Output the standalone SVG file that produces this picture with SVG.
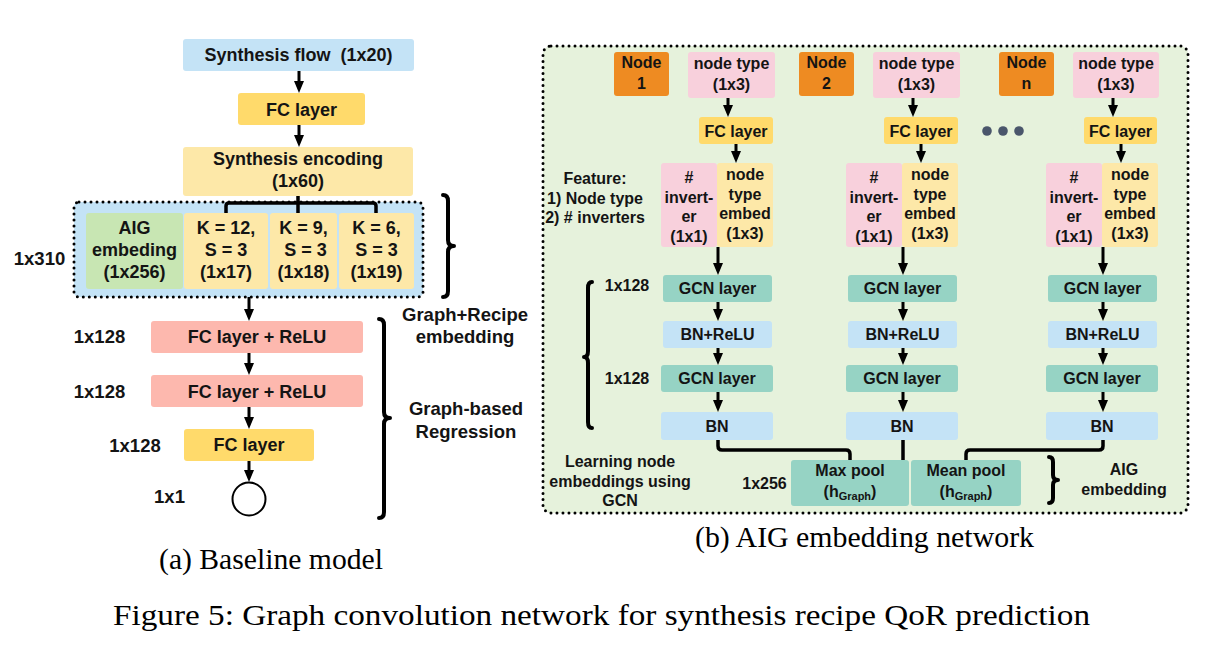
<svg xmlns="http://www.w3.org/2000/svg" width="1214" height="656" viewBox="0 0 1214 656">
<defs>
<marker id="ah" viewBox="0 0 12 10" markerWidth="12" markerHeight="10" refX="6" refY="5" orient="auto" markerUnits="userSpaceOnUse">
<path d="M0,0 L12,5 L0,10 z" fill="#000"/>
</marker>
<style>
.t{font-family:"Liberation Sans",Arial,sans-serif;font-weight:bold;fill:#141414;text-anchor:middle}
.L{font-size:18px}
.S{font-size:18.5px}
.R{font-size:16px}
.cap{font-family:"Liberation Serif",Tinos,"Times New Roman",Times,serif;font-size:29px;fill:#000}
.dot{fill:none;stroke:#000;stroke-width:3;stroke-dasharray:0 6;stroke-linecap:round}
.arr{stroke:#000;stroke-width:3;fill:none;marker-end:url(#ah)}
.ln{stroke:#000;stroke-width:3.5;fill:none;stroke-linejoin:round}
.br{stroke:#000;stroke-width:4;fill:none;stroke-linecap:round;stroke-linejoin:round}
.blue{fill:#c4e3f6}
.gold{fill:#ffda6b}
.ylw{fill:#fde8a8}
.grn{fill:#c8e6b3}
.sal{fill:#fdb8ae}
.pink{fill:#f8d0dc}
.org{fill:#ee8b22}
.teal{fill:#96d3c4}
</style>
</defs>
<rect width="1214" height="656" fill="#fff"/>

<!-- ===== Left panel: Baseline model ===== -->
<g id="synth-flow"><rect class="blue" x="183" y="39" width="231" height="32" rx="3"/><text class="t L" x="298.5" y="61">Synthesis flow&#160; (1x20)</text></g>
<g id="fc-left-top"><rect class="gold" x="238" y="93" width="127" height="32" rx="3"/><text class="t L" x="301.5" y="115.5">FC layer</text></g>
<g id="synth-enc"><rect class="ylw" x="183" y="147" width="230" height="49" rx="3"/><text class="t L" x="298" y="164.5">Synthesis encoding</text><text class="t L" x="298" y="186.5">(1x60)</text></g>
<g id="concat-box">
<rect class="blue" x="74" y="202" width="349" height="95" rx="5"/>
<rect class="dot" x="74" y="202" width="349" height="95" rx="5"/>
</g>
<g id="aig-emb"><rect class="grn" x="86" y="213" width="97" height="76" rx="3"/><text class="t L" x="134.5" y="233.5">AIG</text><text class="t L" x="134.5" y="255.5">embeding</text><text class="t L" x="134.5" y="277.5">(1x256)</text></g>
<g id="k12"><rect class="ylw" x="184" y="213" width="84" height="76" rx="3"/><text class="t L" x="226" y="233.5">K = 12,</text><text class="t L" x="226" y="255.5">S = 3</text><text class="t L" x="226" y="277.5">(1x17)</text></g>
<g id="k9"><rect class="ylw" x="270" y="213" width="67" height="76" rx="3"/><text class="t L" x="303.5" y="233.5">K = 9,</text><text class="t L" x="305.5" y="255.5">S = 3</text><text class="t L" x="303.5" y="277.5">(1x18)</text></g>
<g id="k6"><rect class="ylw" x="339" y="213" width="75" height="76" rx="3"/><text class="t L" x="376.5" y="233.5">K = 6,</text><text class="t L" x="376.5" y="255.5">S = 3</text><text class="t L" x="376.5" y="277.5">(1x19)</text></g>
<g id="fc-relu-1"><rect class="sal" x="151" y="321" width="212" height="32" rx="3"/><text class="t L" x="257" y="342.5">FC layer + ReLU</text></g>
<g id="fc-relu-2"><rect class="sal" x="151" y="375" width="212" height="32" rx="3"/><text class="t L" x="257" y="397.5">FC layer + ReLU</text></g>
<g id="fc-left-bot"><rect class="gold" x="184" y="429" width="130" height="32" rx="3"/><text class="t L" x="249" y="451">FC layer</text></g>
<g id="output"><circle cx="249" cy="499" r="16.5" fill="#fff" stroke="#000" stroke-width="2"/></g>
<g id="left-labels">
<text class="t S" x="39.5" y="264.5">1x310</text>
<text class="t S" x="99.5" y="342.5">1x128</text>
<text class="t S" x="99.5" y="398">1x128</text>
<text class="t S" x="135" y="452">1x128</text>
<text class="t S" x="169.5" y="503">1x1</text>
<text class="t S" x="465" y="320.5">Graph+Recipe</text>
<text class="t S" x="465" y="343">embedding</text>
<text class="t S" x="466" y="415">Graph-based</text>
<text class="t S" x="466" y="438">Regression</text>
<path class="br" d="M443,195 Q448,195 448,201 L448,240 Q448,246 454,246 Q448,246 448,252 L448,291 Q448,297 443,297"/>
<path class="br" d="M379,319 Q384,319 384,325 L384,412 Q384,418 390,418 Q384,418 384,424 L384,512 Q384,518 379,518"/>
</g>

<!-- ===== Right panel: AIG embedding network ===== -->
<g id="aig-panel">
<rect x="543" y="46" width="645" height="467" rx="8" fill="#e6f2dc"/>
<rect class="dot" x="543" y="46" width="645" height="467" rx="8"/>
</g>

<g id="node1"><rect class="org" x="614" y="52" width="55" height="44" rx="3"/><text class="t R" x="641.5" y="68">Node</text><text class="t R" x="641.5" y="89">1</text></g>
<g id="ntype1"><rect class="pink" x="688" y="52" width="87" height="46" rx="3"/><text class="t R" x="731.5" y="69">node type</text><text class="t R" x="731.5" y="90">(1x3)</text></g>
<g id="fc1"><rect class="gold" x="699" y="117" width="74" height="27" rx="3"/><text class="t R" x="736" y="136.5">FC layer</text></g>
<g id="inv1"><rect class="pink" x="661" y="163" width="56" height="84" rx="3"/><text class="t R" x="689" y="183">#</text><text class="t R" x="689" y="202.5">invert-</text><text class="t R" x="689" y="222">er</text><text class="t R" x="689" y="241.5">(1x1)</text></g>
<g id="emb1"><rect class="ylw" x="717" y="163" width="56" height="84" rx="3"/><text class="t R" x="745" y="180">node</text><text class="t R" x="745" y="199.5">type</text><text class="t R" x="745" y="219">embed</text><text class="t R" x="745" y="238.5">(1x3)</text></g>
<g id="gcn1a"><rect class="teal" x="663" y="275" width="109" height="27" rx="3"/><text class="t R" x="717.5" y="294">GCN layer</text></g>
<g id="bnr1"><rect class="blue" x="663" y="321" width="109" height="27" rx="3"/><text class="t R" x="717.5" y="340">BN+ReLU</text></g>
<g id="gcn1b"><rect class="teal" x="661" y="365" width="112" height="27" rx="3"/><text class="t R" x="717" y="384">GCN layer</text></g>
<g id="bn1"><rect class="blue" x="661" y="412" width="112" height="28" rx="3"/><text class="t R" x="717" y="431.5">BN</text></g>

<g id="node2"><rect class="org" x="799" y="52" width="55" height="44" rx="3"/><text class="t R" x="826.5" y="68">Node</text><text class="t R" x="826.5" y="89">2</text></g>
<g id="ntype2"><rect class="pink" x="873" y="52" width="87" height="46" rx="3"/><text class="t R" x="916.5" y="69">node type</text><text class="t R" x="916.5" y="90">(1x3)</text></g>
<g id="fc2"><rect class="gold" x="884" y="117" width="74" height="27" rx="3"/><text class="t R" x="921" y="136.5">FC layer</text></g>
<g id="inv2"><rect class="pink" x="846" y="163" width="56" height="84" rx="3"/><text class="t R" x="874" y="183">#</text><text class="t R" x="874" y="202.5">invert-</text><text class="t R" x="874" y="222">er</text><text class="t R" x="874" y="241.5">(1x1)</text></g>
<g id="emb2"><rect class="ylw" x="902" y="163" width="56" height="84" rx="3"/><text class="t R" x="930" y="180">node</text><text class="t R" x="930" y="199.5">type</text><text class="t R" x="930" y="219">embed</text><text class="t R" x="930" y="238.5">(1x3)</text></g>
<g id="gcn2a"><rect class="teal" x="848" y="275" width="109" height="27" rx="3"/><text class="t R" x="902.5" y="294">GCN layer</text></g>
<g id="bnr2"><rect class="blue" x="848" y="321" width="109" height="27" rx="3"/><text class="t R" x="902.5" y="340">BN+ReLU</text></g>
<g id="gcn2b"><rect class="teal" x="846" y="365" width="112" height="27" rx="3"/><text class="t R" x="902" y="384">GCN layer</text></g>
<g id="bn2"><rect class="blue" x="846" y="412" width="112" height="28" rx="3"/><text class="t R" x="902" y="431.5">BN</text></g>

<g id="ellipsis"><circle cx="987" cy="131" r="4.8" fill="#4a566b"/><circle cx="1003" cy="131" r="4.8" fill="#4a566b"/><circle cx="1019" cy="131" r="4.8" fill="#4a566b"/></g>

<g id="noden"><rect class="org" x="999" y="52" width="55" height="44" rx="3"/><text class="t R" x="1026.5" y="68">Node</text><text class="t R" x="1026.5" y="89">n</text></g>
<g id="ntypen"><rect class="pink" x="1073" y="52" width="86" height="46" rx="3"/><text class="t R" x="1116" y="69">node type</text><text class="t R" x="1116" y="90">(1x3)</text></g>
<g id="fcn"><rect class="gold" x="1084" y="117" width="73" height="27" rx="3"/><text class="t R" x="1120.5" y="136.5">FC layer</text></g>
<g id="invn"><rect class="pink" x="1046" y="163" width="56" height="84" rx="3"/><text class="t R" x="1074" y="183">#</text><text class="t R" x="1074" y="202.5">invert-</text><text class="t R" x="1074" y="222">er</text><text class="t R" x="1074" y="241.5">(1x1)</text></g>
<g id="embn"><rect class="ylw" x="1102" y="163" width="56" height="84" rx="3"/><text class="t R" x="1130" y="180">node</text><text class="t R" x="1130" y="199.5">type</text><text class="t R" x="1130" y="219">embed</text><text class="t R" x="1130" y="238.5">(1x3)</text></g>
<g id="gcnna"><rect class="teal" x="1048" y="275" width="109" height="27" rx="3"/><text class="t R" x="1102.5" y="294">GCN layer</text></g>
<g id="bnrn"><rect class="blue" x="1048" y="321" width="109" height="27" rx="3"/><text class="t R" x="1102.5" y="340">BN+ReLU</text></g>
<g id="gcnnb"><rect class="teal" x="1046" y="365" width="112" height="27" rx="3"/><text class="t R" x="1102" y="384">GCN layer</text></g>
<g id="bnn"><rect class="blue" x="1046" y="412" width="112" height="28" rx="3"/><text class="t R" x="1102" y="431.5">BN</text></g>

<g id="maxpool"><rect class="teal" x="791" y="460" width="118" height="46" rx="3"/><text class="t R" x="850" y="476">Max pool</text><text class="t R" x="850" y="497">(h<tspan font-size="11" dy="3">Graph</tspan><tspan dy="-3">)</tspan></text></g>
<g id="meanpool"><rect class="teal" x="911" y="460" width="110" height="46" rx="3"/><text class="t R" x="966" y="476">Mean pool</text><text class="t R" x="966" y="497">(h<tspan font-size="11" dy="3">Graph</tspan><tspan dy="-3">)</tspan></text></g>

<g id="right-labels">
<text class="t R" x="595" y="184">Feature:</text>
<text class="t R" x="595" y="204">1) Node type</text>
<text class="t R" x="595" y="223">2) # inverters</text>
<text class="t R" x="627" y="291">1x128</text>
<text class="t R" x="627" y="384">1x128</text>
<text class="t R" x="620" y="467">Learning node</text>
<text class="t R" x="620" y="487">embeddings using</text>
<text class="t R" x="620" y="506">GCN</text>
<text class="t R" x="764.5" y="489">1x256</text>
<text class="t R" x="1124" y="475">AIG</text>
<text class="t R" x="1124" y="495">embedding</text>
<path class="br" d="M592,282 Q588,282 588,288 L588,351 Q588,357 584,357 Q588,357 588,363 L588,422 Q588,428 592,428"/>
<path class="br" d="M1049,457 Q1053,457 1053,462 L1053,475 Q1053,480 1058,480 Q1053,480 1053,485 L1053,498 Q1053,503 1049,503"/>
</g>

<!-- ===== Connectors ===== -->
<g id="connectors">
<line class="arr" x1="299" y1="71" x2="299" y2="87"/>
<line class="arr" x1="299" y1="125" x2="299" y2="141"/>
<path class="ln" d="M298,196 V213 M226,213 V206 Q226,203 229,203 H373 Q376,203 376,206 V213"/>
<line class="arr" x1="249" y1="297" x2="249" y2="315"/>
<line class="arr" x1="249" y1="353" x2="249" y2="369"/>
<line class="arr" x1="249" y1="407" x2="249" y2="423"/>
<line class="arr" x1="249" y1="461" x2="249" y2="476"/>

<line class="arr" x1="728" y1="98" x2="728" y2="111"/>
<line class="arr" x1="736" y1="144" x2="736" y2="157"/>
<line class="arr" x1="718" y1="247" x2="718" y2="269"/>
<line class="arr" x1="718" y1="302" x2="718" y2="315"/>
<line class="arr" x1="718" y1="348" x2="718" y2="359"/>
<line class="arr" x1="718" y1="392" x2="718" y2="406"/>

<line class="arr" x1="913" y1="98" x2="913" y2="111"/>
<line class="arr" x1="921" y1="144" x2="921" y2="157"/>
<line class="arr" x1="903" y1="247" x2="903" y2="269"/>
<line class="arr" x1="903" y1="302" x2="903" y2="315"/>
<line class="arr" x1="903" y1="348" x2="903" y2="359"/>
<line class="arr" x1="903" y1="392" x2="903" y2="406"/>

<line class="arr" x1="1113" y1="98" x2="1113" y2="111"/>
<line class="arr" x1="1121" y1="144" x2="1121" y2="157"/>
<line class="arr" x1="1103" y1="247" x2="1103" y2="269"/>
<line class="arr" x1="1103" y1="302" x2="1103" y2="315"/>
<line class="arr" x1="1103" y1="348" x2="1103" y2="359"/>
<line class="arr" x1="1103" y1="392" x2="1103" y2="406"/>

<path class="ln" d="M718,440 V446 Q718,450 722,450 H846 Q850,450 850,454 V460"/>
<path class="ln" d="M903,440 V460"/>
<path class="ln" d="M1103,440 V446 Q1103,450 1099,450 H970 Q966,450 966,454 V460"/>
</g>

<!-- ===== Captions ===== -->
<g id="captions">
<text class="cap" font-family="Liberation Serif, serif" x="159" y="569" textLength="224" lengthAdjust="spacingAndGlyphs">(a) Baseline model</text>
<text class="cap" font-family="Liberation Serif, serif" x="695" y="547" textLength="339" lengthAdjust="spacingAndGlyphs">(b) AIG embedding network</text>
<text class="cap" font-family="Liberation Serif, serif" x="113" y="625" textLength="977" lengthAdjust="spacingAndGlyphs">Figure 5: Graph convolution network for synthesis recipe QoR prediction</text>
</g>
</svg>
